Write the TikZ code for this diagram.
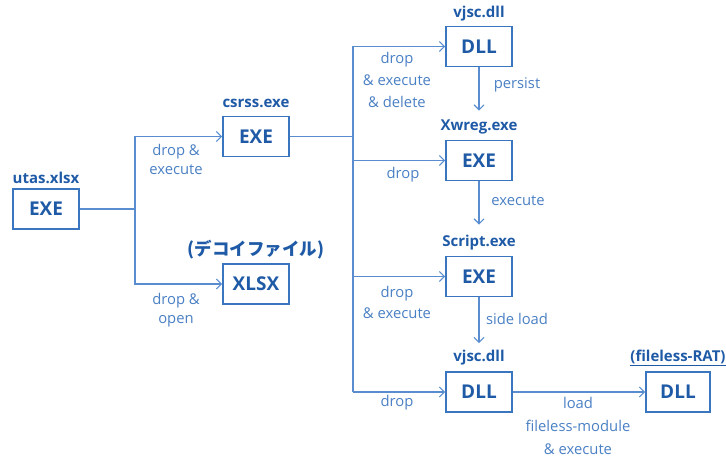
\documentclass[tikz,border=0pt]{standalone}
\usepackage{fontspec}
\setmainfont{Open Sans}
\newfontfamily\cjk{Noto Sans CJK JP}
\usetikzlibrary{arrows.meta,calc}
\definecolor{boxblue}{HTML}{1F5AA6}
\definecolor{edgeblue}{HTML}{3A76C0}
\definecolor{lineblue}{HTML}{5A8DD0}
\definecolor{lblblue}{HTML}{4A80C4}
\tikzset{
  filebox/.style={draw=edgeblue, line width=1.6pt, minimum width=66pt, minimum height=40pt, inner sep=0pt, text=boxblue, font=\fontsize{19}{22}\selectfont\bfseries},
  title/.style={text=boxblue, font=\fontsize{15}{18}\selectfont\bfseries, inner sep=0pt},
  lbl/.style={text=lblblue, font=\fontsize{14.8}{19}\selectfont, inner sep=0pt, align=center},
  lblwide/.style={lbl, font=\fontsize{14.8}{22}\selectfont},
  conn/.style={draw=lineblue, line width=1.3pt},
  arr/.style={conn, -{Straight Barb[length=5pt,width=10pt,line width=1.2pt]}}
}
\begin{document}
\begin{tikzpicture}[x=1pt,y=-1pt]
\useasboundingbox (0,0) rectangle (726,460);
% boxes
\node[filebox] (utas) at (46,209) {EXE};
\node[filebox] (csrss) at (256,136.5) {EXE};
\node[filebox] (xlsx) at (256,284) {XLSX};
\node[filebox] (dll1) at (479,46.5) {DLL};
\node[filebox] (xwreg) at (479,160.5) {EXE};
\node[filebox] (script) at (479,276.5) {EXE};
\node[filebox] (dll2) at (479,392) {DLL};
\node[filebox, minimum width=64pt] (rat) at (678,392) {DLL};
% titles
\node[title] (tutas) at (46,178) {utas.xlsx};
\node[title] (tcsrss) at (256,103) {csrss.exe};
\node[title, font=\fontsize{17.5}{20}\selectfont\bfseries\cjk] (txlsx) at (256,249.5) {(デコイファイル)};
\node[title] (tdll1) at (479,14) {vjsc.dll};
\node[title] (txwreg) at (479,127) {Xwreg.exe};
\node[title] (tscript) at (479,243) {Script.exe};
\node[title] (tdll2) at (479,358) {vjsc.dll};
\node[title] (trat) at (678,358) {\underline{(fileless-RAT)}};
% junctions
\coordinate (j1) at (135,209);
\coordinate (j2) at (353,136.5);
\coordinate (j2top) at (353,46.5);
\coordinate (j2bot) at (353,392);
\coordinate (p1) at ($(xwreg.north)+(0,-29)$);
\coordinate (p2) at ($(script.north)+(0,-31)$);
\coordinate (p3) at ($(dll2.north)+(0,-28)$);
% connectors
\draw[conn] (utas.east) -- (j1);
\draw[arr] (j1) |- (csrss.west);
\draw[arr] (j1) |- (xlsx.west);
\draw[conn] (csrss.east) -- (j2);
\draw[conn] (j2top) -- (j2bot);
\draw[arr] (j2top) -- (dll1.west);
\draw[arr] (j2) |- (xwreg.west);
\draw[arr] (j2) |- (script.west);
\draw[arr] (j2bot) -- (dll2.west);
\draw[arr] (dll1.south) -- (p1);
\draw[arr] (xwreg.south) -- (p2);
\draw[arr] (script.south) -- (p3);
\draw[arr] (dll2.east) -- (rat.west);
% labels
\node[lbl] (l1) at (176,159.5) {drop \&\\execute};
\node[lbl] (l2) at (176,310.5) {drop \&\\open};
\node[lblwide] (l3) at (397,80) {drop\\\& execute\\\& delete};
\node[lbl] (l4) at (403,175) {drop};
\node[lblwide, font=\fontsize{14.8}{21}\selectfont] (l5) at (397,302.5) {drop\\\& execute};
\node[lbl] (l6) at (397,403) {drop};
\node[lbl] (l7) at (517,85) {persist};
\node[lbl] (l8) at (518,201) {execute};
\node[lbl] (l9) at (517,319) {side load};
\node[lblwide, font=\fontsize{14.8}{23}\selectfont] (l10) at (578,426) {load\\fileless-module\\\& execute};
\end{tikzpicture}
\end{document}
